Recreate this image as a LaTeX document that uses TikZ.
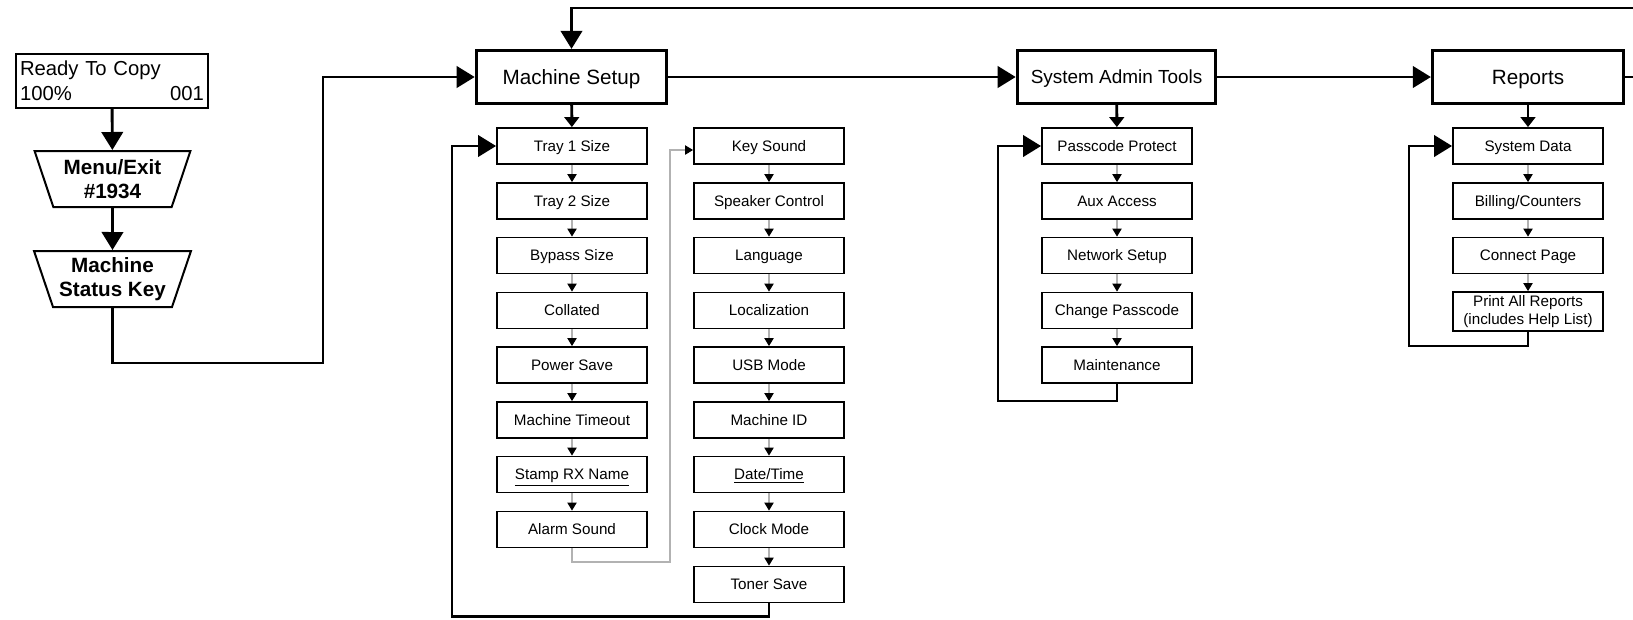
\documentclass[tikz,border=0pt]{standalone}
\usepackage{fontspec}
\setmainfont{Liberation Sans}
\usetikzlibrary{arrows.meta,shapes.geometric}

\tikzset{
  mainbox/.style={draw, line width=2.2pt, minimum height=40pt, inner sep=0pt,
    text height=11.2pt, text depth=0.2pt, font=\fontsize{15.5}{18}\selectfont},
  itemframe/.style={draw, line width=1.4pt, minimum width=112.5pt, minimum height=27pt,
    inner sep=0pt, font=\fontsize{11.4}{13.5}\selectfont},
  itembox/.style={itemframe, text height=8.4pt, text depth=0.2pt},
  keybox/.style={draw, line width=1.5pt, trapezium, shape border rotate=180,
    trapezium left angle=68.5, trapezium right angle=68.5, trapezium stretches=true,
    minimum width=117.75pt, minimum height=42pt, inner sep=0pt, align=center,
    font=\bfseries\fontsize{15.5}{18}\selectfont},
  bigflow/.style={line width=2.2pt, -{Triangle[length=13.5pt,width=16pt]}},
  midflow/.style={line width=2.2pt, -{Triangle[length=7.5pt,width=11pt]}},
  smallflow/.style={draw=gray!60, line width=0.8pt, -{Triangle[length=6pt,width=7pt,color=black]}},
}

\begin{document}
\begin{tikzpicture}[x=0.75pt,y=0.75pt]
\useasboundingbox (0,0) rectangle (1633,-619);
\clip (0,0) rectangle (1633,-619);

% display and keys
\node[draw, line width=1.5pt, text width=138pt, inner xsep=3pt, minimum height=40.5pt,
  align=left, font=\fontsize{15.2}{18.75}\selectfont] (ready) at (112,-81)
  {Ready To Copy\\100\%\hfill 001};
\node[keybox] (menu) at (112.5,-179) {Menu/Exit\\\#1934};
\node[keybox] (status) at (112.5,-279) {Machine\\Status Key};
\draw[bigflow] (ready) -- (menu);
\draw[bigflow] (menu) -- (status);

% main menus
\node[mainbox, minimum width=143pt] (setup) at (571.5,-77) {Machine Setup};
\node[mainbox, minimum width=149pt, text height=10.3pt, font=\fontsize{14.2}{17}\selectfont] (admin) at (1116.5,-77) {System Admin Tools};
\node[mainbox, minimum width=143.5pt] (reports) at (1528,-77) {Reports};

\coordinate (bend) at (323,-363);
\draw[bigflow] (status.south) |- (bend) |- (setup.west);
\draw[bigflow] (setup) -- (admin);
\draw[bigflow] (admin) -- (reports);
\coordinate (wrap) at (1660,-8);
\draw[bigflow] (reports.east) -| (wrap) -| (setup.north);

% machine setup, first column
\node[itembox] (tray1) at (572,-146) {Tray 1 Size};
\node[itembox] (tray2) at (572,-201) {Tray 2 Size};
\node[itembox] (bypass) at (572,-255.5) {Bypass Size};
\node[itembox] (collated) at (572,-310.5) {Collated};
\node[itembox] (powersave) at (572,-365) {Power Save};
\node[itembox] (timeout) at (572,-420) {Machine Timeout};
\node[itembox] (stamp) at (572,-474.5) {\underline{Stamp RX Name}};
\node[itembox] (alarm) at (572,-529.5) {Alarm Sound};

% machine setup, second column
\node[itembox] (keysound) at (769,-146) {Key Sound};
\node[itembox] (speaker) at (769,-201) {Speaker Control};
\node[itembox] (language) at (769,-255.5) {Language};
\node[itembox] (local) at (769,-310.5) {Localization};
\node[itembox] (usb) at (769,-365) {USB Mode};
\node[itembox] (machineid) at (769,-420) {Machine ID};
\node[itembox] (datetime) at (769,-474.5) {\underline{Date/Time}};
\node[itembox] (clock) at (769,-529.5) {Clock Mode};
\node[itembox] (toner) at (769,-584.5) {Toner Save};

\draw[midflow] (setup) -- (tray1);
\draw[smallflow] (tray1) -- (tray2);
\draw[smallflow] (tray2) -- (bypass);
\draw[smallflow] (bypass) -- (collated);
\draw[smallflow] (collated) -- (powersave);
\draw[smallflow] (powersave) -- (timeout);
\draw[smallflow] (timeout) -- (stamp);
\draw[smallflow] (stamp) -- (alarm);
\coordinate (keyloop) at (670,-562);
\draw[smallflow] (alarm.south) |- (keyloop) |- ([yshift=-3pt]keysound.west);
\draw[smallflow] (keysound) -- (speaker);
\draw[smallflow] (speaker) -- (language);
\draw[smallflow] (language) -- (local);
\draw[smallflow] (local) -- (usb);
\draw[smallflow] (usb) -- (machineid);
\draw[smallflow] (machineid) -- (datetime);
\draw[smallflow] (datetime) -- (clock);
\draw[smallflow] (clock) -- (toner);
\coordinate (trayloop) at (452,-616.5);
\draw[bigflow] (toner.south) |- (trayloop) |- (tray1.west);

% system admin tools
\node[itembox] (passcode) at (1117,-146) {Passcode Protect};
\node[itembox] (aux) at (1117,-201) {Aux Access};
\node[itembox] (network) at (1117,-255.5) {Network Setup};
\node[itembox] (change) at (1117,-310.5) {Change Passcode};
\node[itembox] (maint) at (1117,-365) {Maintenance};
\draw[midflow] (admin) -- (passcode);
\draw[smallflow] (passcode) -- (aux);
\draw[smallflow] (aux) -- (network);
\draw[smallflow] (network) -- (change);
\draw[smallflow] (change) -- (maint);
\coordinate (adminloop) at (998,-401);
\draw[bigflow] (maint.south) |- (adminloop) |- (passcode.west);

% reports
\node[itembox] (sysdata) at (1528,-146) {System Data};
\node[itembox] (billing) at (1528,-201) {Billing/Counters};
\node[itembox] (connect) at (1528,-255.5) {Connect Page};
\node[itemframe, minimum height=29.25pt, align=center] (printall) at (1528,-311.5) {Print All Reports\\(includes Help List)};
\draw[midflow] (reports) -- (sysdata);
\draw[smallflow] (sysdata) -- (billing);
\draw[smallflow] (billing) -- (connect);
\draw[smallflow] (connect) -- (printall);
\coordinate (reportloop) at (1409,-346);
\draw[bigflow] (printall.south) |- (reportloop) |- (sysdata.west);
\end{tikzpicture}
\end{document}
